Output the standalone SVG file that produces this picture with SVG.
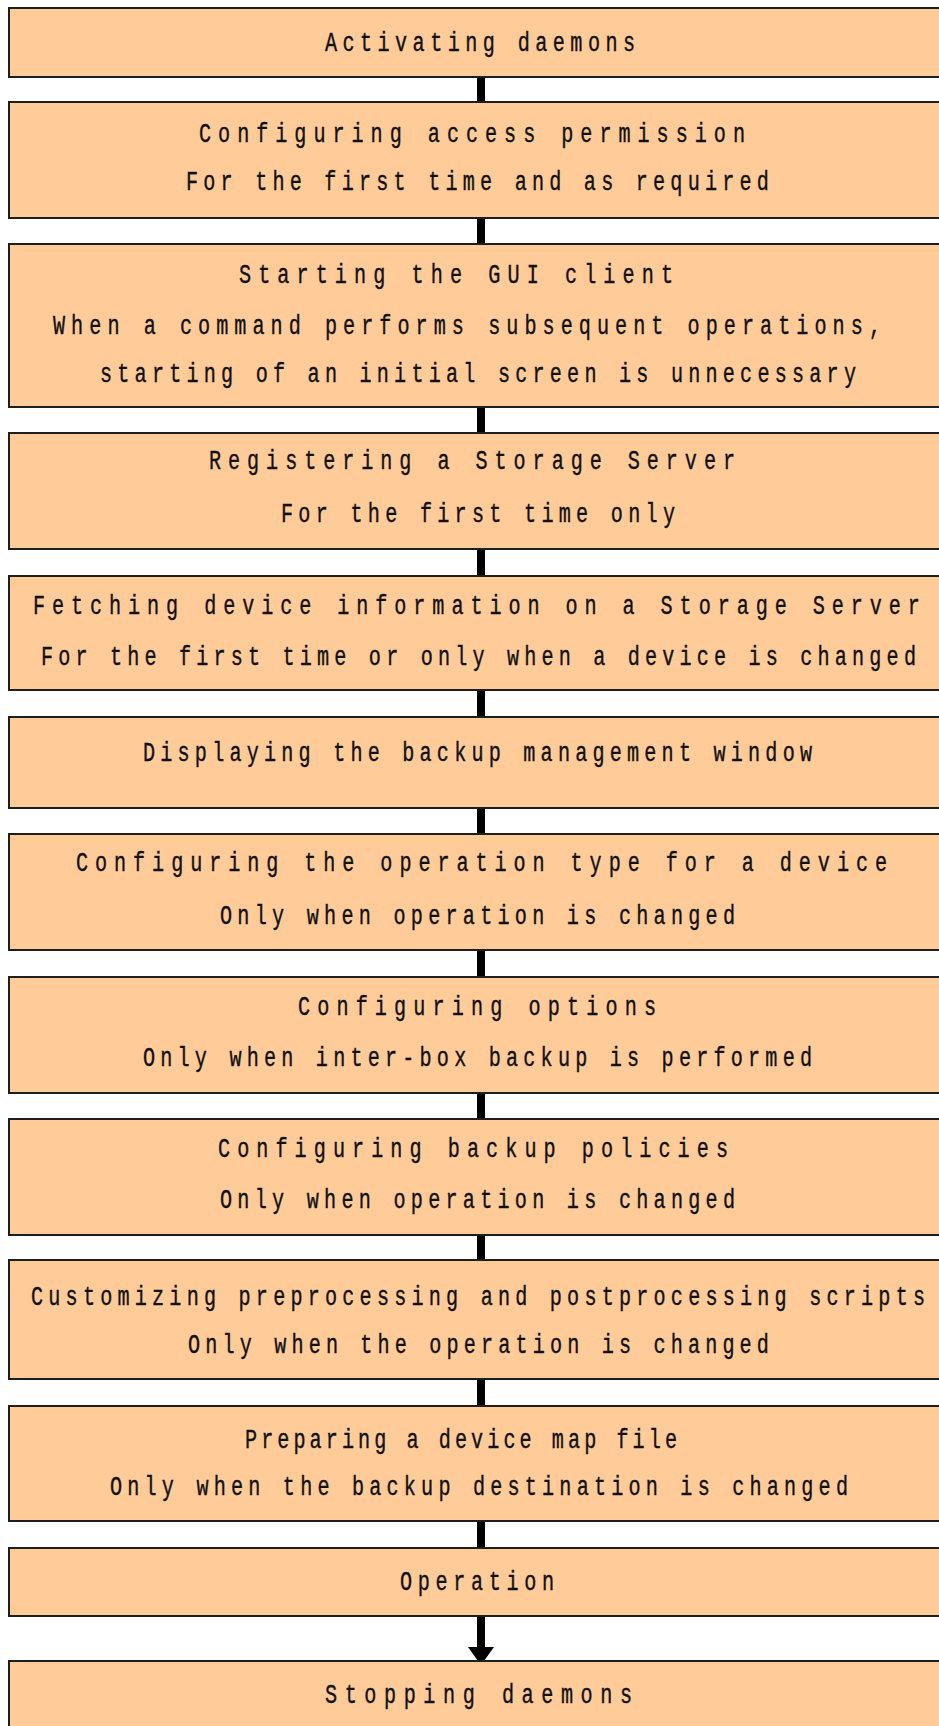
<svg xmlns="http://www.w3.org/2000/svg" width="939" height="1726" viewBox="0 0 939 1726">
  <style>
    .box { fill: #FFCC99; stroke: #1e1e1e; stroke-width: 2; }
    .t { font-family: "Liberation Mono", "DejaVu Sans Mono", monospace; font-size: 28px; fill: #111; stroke: #111; stroke-width: 0.4; }
    .link { stroke: #000; stroke-width: 8; fill: none; }
  </style>
  <rect width="939" height="1726" fill="#fff"/>

  <!-- connectors -->
  <g id="connectors">
    <line class="link" x1="481" y1="77" x2="481" y2="102"/>
    <line class="link" x1="481" y1="218" x2="481" y2="244"/>
    <line class="link" x1="481" y1="407" x2="481" y2="433"/>
    <line class="link" x1="481" y1="549" x2="481" y2="576"/>
    <line class="link" x1="481" y1="690" x2="481" y2="717"/>
    <line class="link" x1="481" y1="808" x2="481" y2="834"/>
    <line class="link" x1="481" y1="950" x2="481" y2="977"/>
    <line class="link" x1="481" y1="1093" x2="481" y2="1119"/>
    <line class="link" x1="481" y1="1235" x2="481" y2="1260"/>
    <line class="link" x1="481" y1="1379" x2="481" y2="1406"/>
    <line class="link" x1="481" y1="1521" x2="481" y2="1548"/>
    <line class="link" x1="481" y1="1616" x2="481" y2="1650"/>
    <polygon points="468,1647 494,1647 484,1661 478,1661" fill="#000"/>
  </g>

  <!-- steps; text is drawn in a horizontally condensed space (x scaled by 0.72) -->
  <g id="step-activate">
    <rect class="box" x="9" y="8" width="940" height="69"/>
    <text class="t" transform="scale(0.72,1)" x="451.4" y="51.5" textLength="430.6" lengthAdjust="spacing">Activating daemons</text>
  </g>
  <g id="step-access">
    <rect class="box" x="9" y="102" width="940" height="116"/>
    <text class="t" transform="scale(0.72,1)" x="276.4" y="142.5" textLength="758.3" lengthAdjust="spacing">Configuring access permission</text>
    <text class="t" transform="scale(0.72,1)" x="258.3" y="190" textLength="809.7" lengthAdjust="spacing">For the first time and as required</text>
  </g>
  <g id="step-gui">
    <rect class="box" x="9" y="244" width="940" height="163"/>
    <text class="t" transform="scale(0.72,1)" x="331.9" y="283.5" textLength="602.8" lengthAdjust="spacing">Starting the GUI client</text>
    <text class="t" transform="scale(0.72,1)" x="73.6" y="334.5" textLength="1150" lengthAdjust="spacing">When a command performs subsequent operations,</text>
    <text class="t" transform="scale(0.72,1)" x="138.9" y="382.5" textLength="1050" lengthAdjust="spacing">starting of an initial screen is unnecessary</text>
  </g>
  <g id="step-register">
    <rect class="box" x="9" y="433" width="940" height="116"/>
    <text class="t" transform="scale(0.72,1)" x="290.3" y="469.5" textLength="730.6" lengthAdjust="spacing">Registering a Storage Server</text>
    <text class="t" transform="scale(0.72,1)" x="390.3" y="522.5" textLength="547.2" lengthAdjust="spacing">For the first time only</text>
  </g>
  <g id="step-fetch">
    <rect class="box" x="9" y="576" width="940" height="114"/>
    <text class="t" transform="scale(0.72,1)" x="45.8" y="614.5" textLength="1231.9" lengthAdjust="spacing">Fetching device information on a Storage Server</text>
    <text class="t" transform="scale(0.72,1)" x="56.9" y="665.5" textLength="1215.3" lengthAdjust="spacing">For the first time or only when a device is changed</text>
  </g>
  <g id="step-window">
    <rect class="box" x="9" y="717" width="940" height="91"/>
    <text class="t" transform="scale(0.72,1)" x="198.6" y="761.5" textLength="929.2" lengthAdjust="spacing">Displaying the backup management window</text>
  </g>
  <g id="step-optype">
    <rect class="box" x="9" y="834" width="940" height="116"/>
    <text class="t" transform="scale(0.72,1)" x="105.6" y="871.5" textLength="1126.4" lengthAdjust="spacing">Configuring the operation type for a device</text>
    <text class="t" transform="scale(0.72,1)" x="305.6" y="924.5" textLength="715.3" lengthAdjust="spacing">Only when operation is changed</text>
  </g>
  <g id="step-options">
    <rect class="box" x="9" y="977" width="940" height="116"/>
    <text class="t" transform="scale(0.72,1)" x="413.9" y="1015.5" textLength="497.2" lengthAdjust="spacing">Configuring options</text>
    <text class="t" transform="scale(0.72,1)" x="198.6" y="1066.5" textLength="929.2" lengthAdjust="spacing">Only when inter-box backup is performed</text>
  </g>
  <g id="step-policies">
    <rect class="box" x="9" y="1119" width="940" height="116"/>
    <text class="t" transform="scale(0.72,1)" x="302.8" y="1157.5" textLength="708.3" lengthAdjust="spacing">Configuring backup policies</text>
    <text class="t" transform="scale(0.72,1)" x="305.6" y="1208.5" textLength="715.3" lengthAdjust="spacing">Only when operation is changed</text>
  </g>
  <g id="step-scripts">
    <rect class="box" x="9" y="1260" width="940" height="119"/>
    <text class="t" transform="scale(0.72,1)" x="43.1" y="1305.5" textLength="1241.7" lengthAdjust="spacing">Customizing preprocessing and postprocessing scripts</text>
    <text class="t" transform="scale(0.72,1)" x="261.1" y="1353.5" textLength="806.9" lengthAdjust="spacing">Only when the operation is changed</text>
  </g>
  <g id="step-mapfile">
    <rect class="box" x="9" y="1406" width="940" height="115"/>
    <text class="t" transform="scale(0.72,1)" x="340.3" y="1448.5" textLength="600" lengthAdjust="spacing">Preparing a device map file</text>
    <text class="t" transform="scale(0.72,1)" x="152.8" y="1495.5" textLength="1025" lengthAdjust="spacing">Only when the backup destination is changed</text>
  </g>
  <g id="step-operation">
    <rect class="box" x="9" y="1548" width="940" height="68"/>
    <text class="t" transform="scale(0.72,1)" x="555.6" y="1590.5" textLength="213.9" lengthAdjust="spacing">Operation</text>
  </g>
  <g id="step-stop">
    <rect class="box" x="9" y="1661" width="940" height="75"/>
    <text class="t" transform="scale(0.72,1)" x="451.4" y="1703.5" textLength="426.4" lengthAdjust="spacing">Stopping daemons</text>
  </g>
</svg>
